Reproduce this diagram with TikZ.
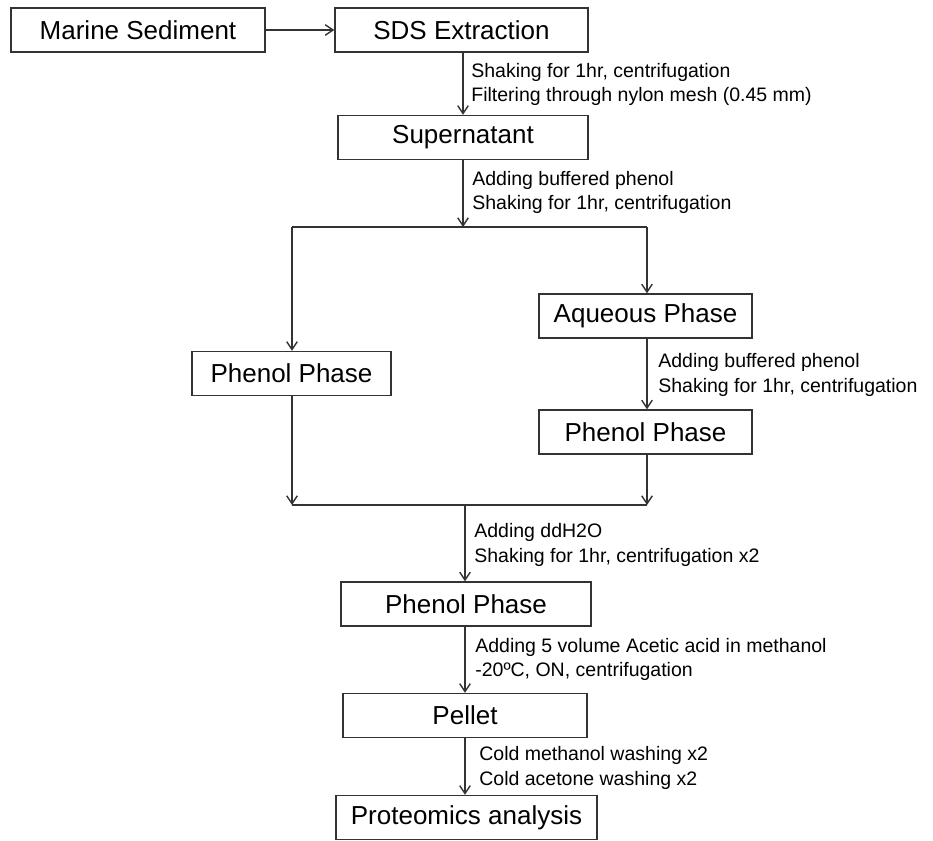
\documentclass[tikz,border=0pt]{standalone}
\usepackage{fontspec}
\setmainfont{Liberation Sans}
\usepackage{tikz}
\usetikzlibrary{arrows.meta, positioning, calc}
\tikzset{
  proc/.style={rectangle, draw=black!80, line width=0.8pt, align=center,
               minimum height=0.88cm, inner sep=0pt,
               font=\fontsize{14.8}{16}\selectfont},
  note/.style={anchor=west, align=left, inner sep=0pt,
               font=\fontsize{11.1}{13.9}\selectfont},
  arr/.style={-{Straight Barb[length=4.5pt,width=6pt]}, line width=0.8pt,
              draw=black!80},
  ln/.style={line width=0.8pt, draw=black!80},
}

\begin{document}
\begin{tikzpicture}[x=0.02cm,y=-0.02cm]
  \useasboundingbox (0,0) rectangle (933,841);
  % boxes
  \node[proc,minimum width=5.08cm] (sed)  at (138,30)    {Marine Sediment};
  \node[proc,minimum width=5.06cm] (sds)  at (461.5,30)  {SDS Extraction};
  \node[proc,minimum width=5.00cm] (sup)  at (463,137.5) {Supernatant};
  \node[proc,minimum width=3.98cm] (phl)  at (291.5,373.5) {Phenol Phase};
  \node[proc,minimum width=4.26cm] (aq)   at (645.5,316) {Aqueous Phase};
  \node[proc,minimum width=4.26cm] (phr)  at (645.5,432) {Phenol Phase};
  \node[proc,minimum width=5.00cm] (phc)  at (466,604)   {Phenol Phase};
  \node[proc,minimum width=4.88cm] (pel)  at (465,715.5) {Pellet};
  \node[proc,minimum width=5.22cm] (prot) at (466.5,817.5) {Proteomics analysis};
  % split and merge points
  \coordinate (split)  at (463,227);
  \coordinate (splitl) at (292,227);
  \coordinate (splitr) at (647,227);
  \coordinate (mergel) at (292,505);
  \coordinate (merger) at (647,505);
  \coordinate (merge)  at (465,505);
  % connectors
  \draw[arr] (sed) -- (sds);
  \draw[arr] (sup.north |- sds.south) -- (sup.north);
  \draw[arr] (sup.south) -- (split);
  \draw[ln] (splitl) -- (splitr);
  \draw[arr] (splitl) -- (splitl |- phl.north);
  \draw[arr] (splitr) -- (splitr |- aq.north);
  \draw[arr] (aq.south -| splitr) -- (splitr |- phr.north);
  \draw[arr] (phl.south -| mergel) -- (mergel);
  \draw[arr] (phr.south -| merger) -- (merger);
  \draw[ln] (mergel) -- (merger);
  \draw[arr] (merge) -- (merge |- phc.north);
  \draw[arr] (phc.south -| merge) -- (merge |- pel.north);
  \draw[arr] (pel.south -| merge) -- (merge |- prot.north);
  % step notes
  \node[note] (n1) at (471,84.5)
        {Shaking for 1hr, centrifugation\\Filtering through nylon mesh (0.45 mm)};
  \node[note] (n2) at (472,192.5)
        {Adding buffered phenol\\Shaking for 1hr, centrifugation};
  \node[note] (n3) at (658,375)
        {Adding buffered phenol\\Shaking for 1hr, centrifugation};
  \node[note] (n4) at (474,545)
        {Adding ddH2O\\Shaking for 1hr, centrifugation x2};
  \node[note] (n5) at (475,659.5)
        {Adding 5 volume Acetic acid in methanol\\-20ºC, ON, centrifugation};
  \node[note] (n6) at (479,768)
        {Cold methanol washing x2\\Cold acetone washing x2};
\end{tikzpicture}
\end{document}
